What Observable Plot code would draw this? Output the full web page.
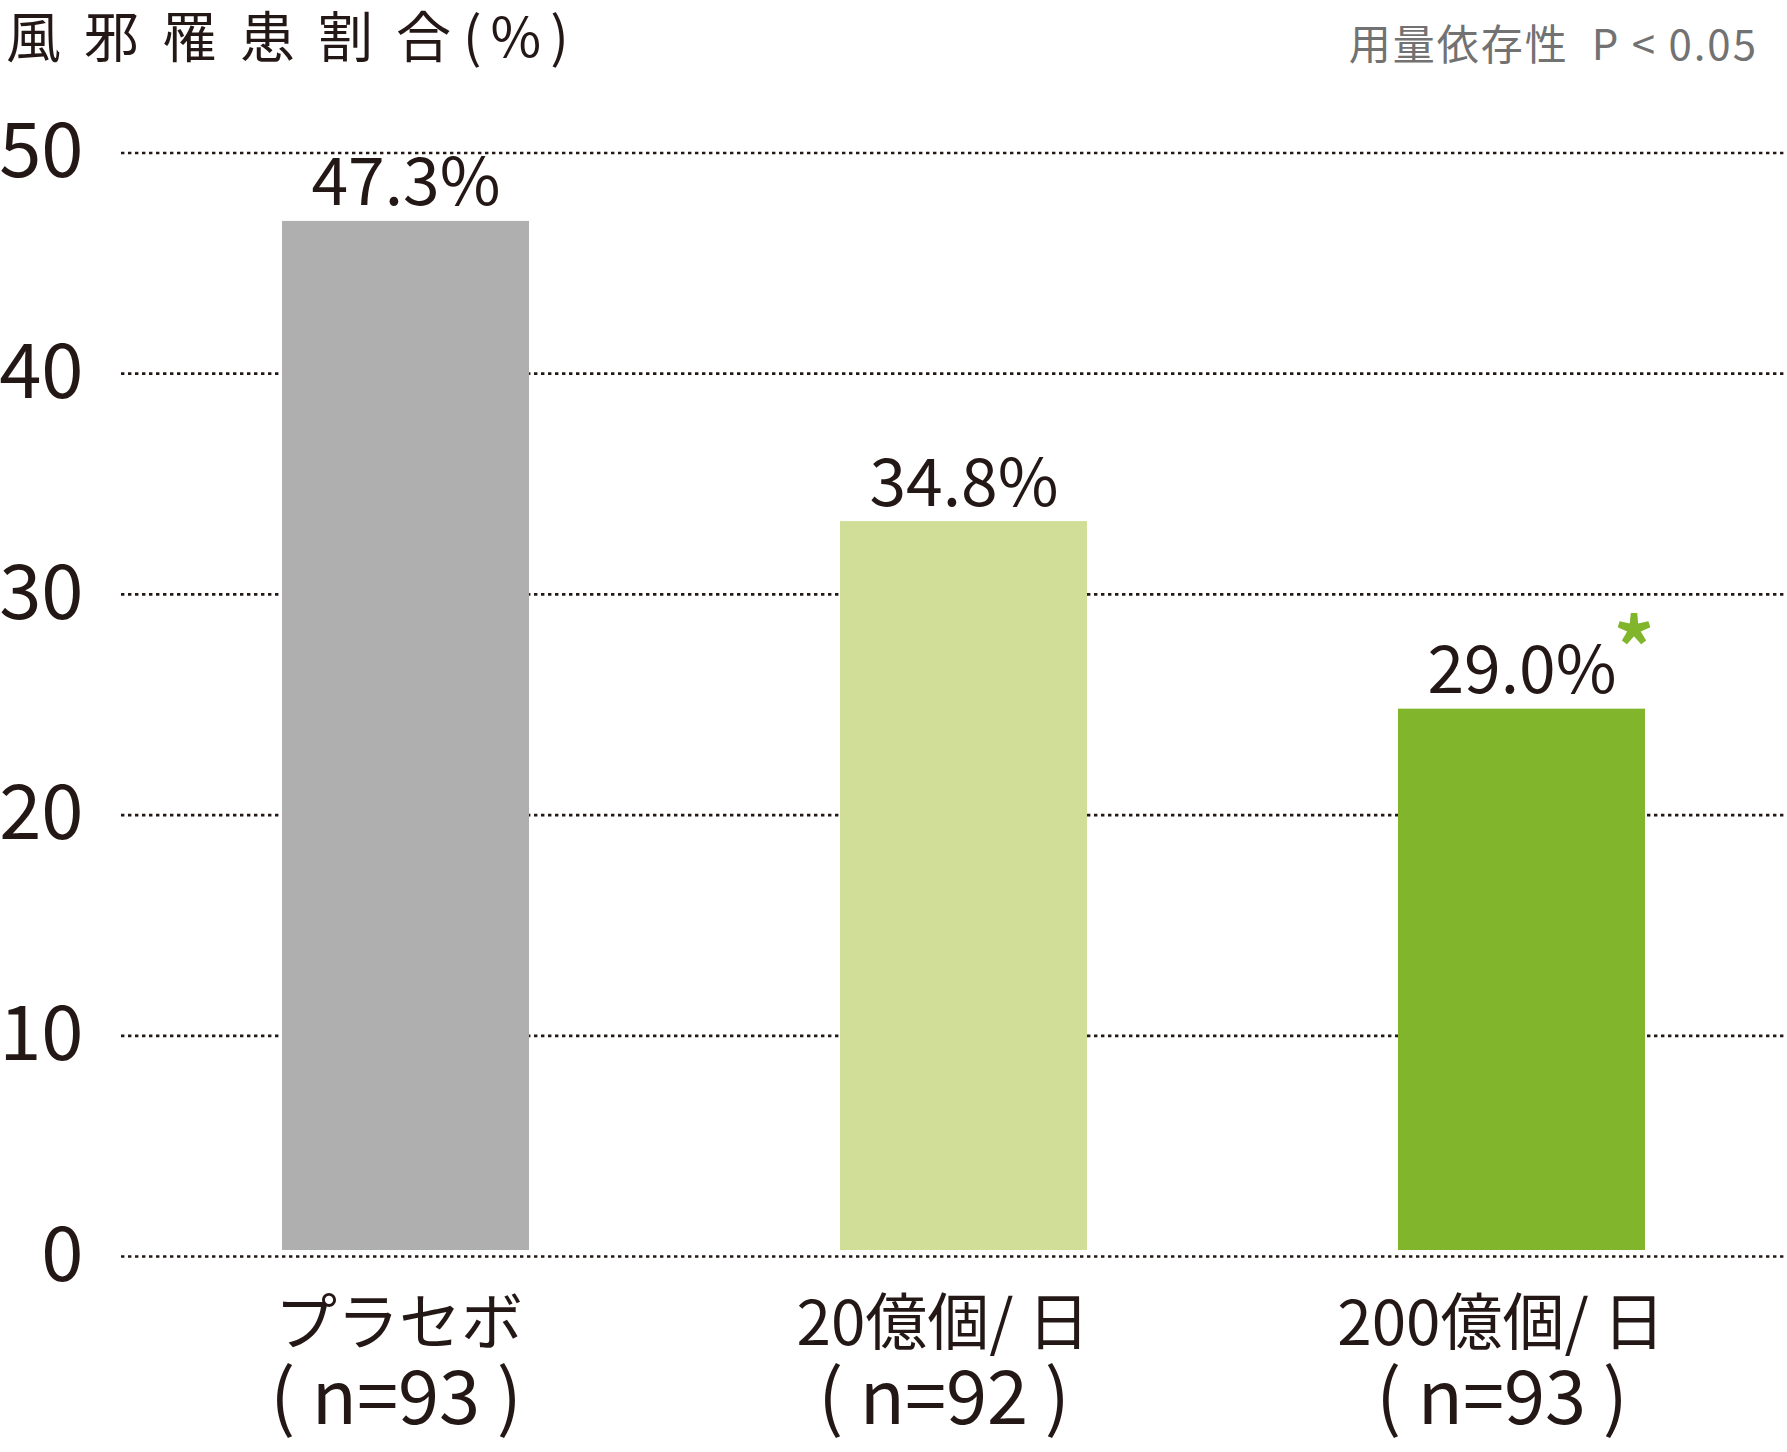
<!DOCTYPE html>
<html>
<head>
<meta charset="utf-8">
<script src="https://cdn.jsdelivr.net/npm/d3@7"></script>
<script src="https://cdn.jsdelivr.net/npm/@observablehq/plot@0.6"></script>
<style>
  html, body { margin: 0; padding: 0; background: #fff; }
  body { width: 1787px; font-family: "Noto Sans CJK JP", "Noto Sans", sans-serif; color: #231815; }
  #header { position: relative; height: 100px; width: 1787px; }
  #title { position: absolute; left: 6px; top: 5px; font-size: 55px; line-height: 1.05; white-space: pre; }
  #subtitle { position: absolute; right: 29px; top: 20px; font-size: 42px; line-height: 1.05; color: #727272; letter-spacing: 2px; white-space: pre; }
</style>
</head>
<body>
<div id="header">
  <div id="title"><span style="letter-spacing:23px">風邪罹患割</span><span style="letter-spacing:12px">合</span><span style="letter-spacing:9px">(%)</span></div>
  <div id="subtitle">用量依存性  P &lt; 0.05</div>
</div>
<div id="chart"></div>
<script>
// ---- data ----
const groups = ["プラセボ", "20億個/ 日", "200億個/ 日"];
const nLabels = ["( n=93 )", "( n=92 )", "( n=93 )"];
const barHeights = [46.9, 33.3, 24.8];
// value labels as printed in the reference
const valueLabels = ["47.3%", "34.8%", "29.0%"];
const sigMarks = ["", "", "*"];
const barColors = ["#afafaf", "#d1de97", "#80b52c"];
const yTicks = [0, 10, 20, 30, 40, 50];

const data = groups.map((g, i) => ({
  group: g, n: nLabels[i], h: barHeights[i], label: valueLabels[i], sig: sigMarks[i], color: barColors[i]
}));

const ink = "#231815";
const first = (d, i) => i === 0;
const rest = (d, i) => i !== 0;

const chart = Plot.plot({
  width: 1787,
  height: 1352,
  marginTop: 52.5,
  marginBottom: 196,
  marginLeft: 121,
  marginRight: 2,
  x: { domain: groups, paddingInner: 0.558, paddingOuter: 0.2675, align: 0.533, axis: null },
  y: { domain: [0, 50], label: null },
  color: { type: "identity" },
  style: { fontFamily: "'Noto Sans CJK JP', 'Noto Sans', sans-serif", color: ink, background: "white", overflow: "visible" },
  marks: [
    Plot.ruleY(yTicks, { stroke: ink, strokeWidth: 2.7, strokeDasharray: "3.4,3.6" }),
    Plot.axisY({ ticks: yTicks, tickSize: 0, tickPadding: 38, fontSize: 76, dy: 0, fill: ink, label: null }),
    Plot.barY(data, { x: "group", y: "h", fill: "color", insetBottom: 6 }),
    Plot.text(data, { x: "group", y: "h", text: "label", lineAnchor: "bottom", dy: -16, fontSize: 66, fill: ink }),
    Plot.text(data, { x: "group", y: "h", text: "sig", dx: 112, dy: -57, fontSize: 80, fontWeight: 700, fill: "#80b52c" }),
    Plot.text(data, { filter: first, x: "group", frameAnchor: "bottom", text: "group", lineAnchor: "bottom", dy: 88, dx: -7, fontSize: 62, fill: ink }),
    Plot.text(data, { filter: rest, x: "group", frameAnchor: "bottom", text: "group", lineAnchor: "bottom", dy: 88, dx: -21, fontSize: 62, fill: ink }),
    Plot.text(data, { filter: first, x: "group", frameAnchor: "bottom", text: "n", lineAnchor: "bottom", dy: 167, dx: -10, fontSize: 74, fill: ink }),
    Plot.text(data, { filter: rest, x: "group", frameAnchor: "bottom", text: "n", lineAnchor: "bottom", dy: 167, dx: -20, fontSize: 74, fill: ink })
  ]
});
document.getElementById("chart").appendChild(chart);
</script>
</body>
</html>
